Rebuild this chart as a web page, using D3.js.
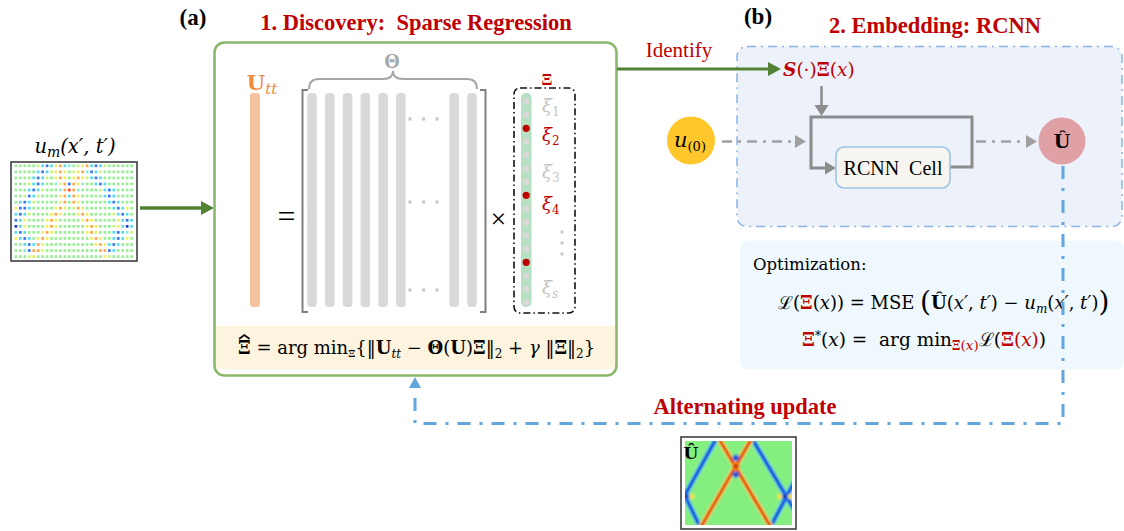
<!DOCTYPE html>
<html>
<head>
<meta charset="utf-8">
<script src="https://cdn.jsdelivr.net/npm/d3@7"></script>
<style>
  html, body { margin: 0; padding: 0; background: #fff; }
  svg { display: block; }
  text { white-space: pre; }
</style>
</head>
<body>
<svg id="fig" width="1124" height="531"></svg>
<script>
// ---------------- data ----------------
// Sparse measurements u_m(x', t'): one string per time row, one letter per sensor (colour level)
const measurementRows = [
  "ggggglcbcyocaglyocbclgggggg",
  "gggggcbclyoyglyoabclggggggg",
  "ggggcbclgyoygyoylcbcggggggg",
  "ggglcbcggayoboyaggcbcgggggg",
  "gggcbclgggaoroagggglcbcgggg",
  "gglbclggggyocoygggggcbcgggg",
  "gcbclgggggyogoyggggggcbcggg",
  "ybbcgggggyoygloyggggggcbcyg",
  "cbclggggyoygggyoyggggglcbcg",
  "bcyggggyoygggggyoygggggycbc",
  "dcyggggyoyggggggyoyggglycdc",
  "cbcgggyoygggggggyoygggcbcal",
  "ycbcgyoygggggggggyoyggcbcyg",
  "ggcbcoygggggggggggyoycbcggg",
  "ggabooyggggggggggggoobcgggg",
  "ggglygggggggggggggggylggggg"
];
// colour level of each letter (jet-like scale, low -> high)
const levelKeys   = ["d", "b", "c", "a", "g", "l", "y", "o", "r"];
const levelColors = ["#2433c8", "#3a78f0", "#52dcf0", "#86eed6", "#98ee94", "#c8f57c", "#eef05a", "#ffa648", "#ee4a2c"];

// Library matrix Theta: column slots that hold a drawn term (slots 6-7 are elided)
const libraryColumns = [0, 1, 2, 3, 4, 5, 8, 9];
// Sparse coefficient vector Xi (non-zero entries are the selected terms)
const xiCoefficients = [0, 0, 1, 0, 0, 0, 0, 1, 0, 0, 0, 0, 1, 0, 0, 0];
// labelled coefficients beside the vector
const xiLabels = [
  { sub: "1", active: false },
  { sub: "2", active: true },
  { sub: "3", active: false },
  { sub: "4", active: true },
  { sub: "s", active: false }
];

// Reconstructed field U-hat: travelling bands in (x, t) unit coordinates
const waveBands = [
  { tone: "blue", from: [0.28, 0.00], to: [-0.06, 0.78] },
  { tone: "blue", from: [-0.06, 0.50], to: [0.14, 1.02] },
  { tone: "red",  from: [0.33, 0.00], to: [0.80, 1.02] },
  { tone: "red",  from: [0.61, 0.00], to: [0.15, 1.02] },
  { tone: "blue", from: [0.64, 0.00], to: [1.04, 0.86] },
  { tone: "blue", from: [1.04, 0.44], to: [0.80, 1.02] }
];
// interaction spots where bands cross or reflect
const waveSpots = [
  { tone: "red",    u: 0.475, v: 0.30, r: 2.8 },
  { tone: "blue",   u: 0.475, v: 0.20, r: 2.0 },
  { tone: "blue",   u: 0.475, v: 0.40, r: 2.0 },
  { tone: "blue",   u: 0.010, v: 0.66, r: 2.6 },
  { tone: "yellow", u: 0.065, v: 0.66, r: 1.4 },
  { tone: "blue",   u: 0.935, v: 0.66, r: 2.8 },
  { tone: "yellow", u: 0.885, v: 0.66, r: 1.4 },
  { tone: "yellow", u: 0.985, v: 0.66, r: 1.3 }
];

// ---------------- drawing ----------------
const svg = d3.select("#fig");
const SERIF = "'Liberation Serif', 'Times New Roman', serif";
const MATH = "'DejaVu Serif', serif";
const RED = "#c00000";
const DGREEN = "#548235";

svg.append("rect").attr("width", 1124).attr("height", 531).attr("fill", "#fff");

const defs = svg.append("defs");
defs.append("filter").attr("id", "soft").attr("x", "-5%").attr("y", "-5%").attr("width", "110%").attr("height", "110%")
  .append("feGaussianBlur").attr("stdDeviation", 0.85);
defs.append("clipPath").attr("id", "fieldClip")
  .append("rect").attr("x", 685).attr("y", 441).attr("width", 107).attr("height", 84);

// rich text helper: segments with bold / italic / colour / sub-shift
function rich(x, y, segs, o = {}) {
  const t = svg.append("text")
    .attr("x", x).attr("y", y)
    .attr("font-family", o.family || SERIF)
    .attr("font-size", o.size || 18)
    .attr("text-anchor", o.anchor || "start")
    .attr("fill", o.fill || "#000");
  if (o.bold) t.attr("font-weight", "bold");
  let cur = 0;
  segs.forEach(s => {
    if (typeof s === "string") s = { t: s };
    const shift = s.dy || 0;
    const ts = t.append("tspan").text(s.t).attr("dy", shift - cur);
    cur = shift;
    if (s.b) ts.attr("font-weight", "bold");
    if (s.i) ts.attr("font-style", "italic");
    if (s.c) ts.attr("fill", s.c);
    if (s.fs) ts.attr("font-size", s.fs);
    if (s.ff) ts.attr("font-family", s.ff);
  });
  return t;
}

function arrowHead(x, y, dir, len, half, color) {
  let p;
  if (dir === "r") p = [[x, y], [x - len, y - half], [x - len, y + half]];
  if (dir === "d") p = [[x, y], [x - half, y - len], [x + half, y - len]];
  if (dir === "u") p = [[x, y], [x - half, y + len], [x + half, y + len]];
  svg.append("path").attr("d", d3.line()(p) + "Z").attr("fill", color);
}

// ---------- left: sparse measurement grid ----------
rich(75, 153, [{ t: "u", i: true }, { t: "m", i: true, fs: 14, dy: 4 }, { t: "(x′, t′)", i: true }],
  { size: 19.5, anchor: "middle", family: MATH });
svg.append("rect").attr("x", 11).attr("y", 162).attr("width", 126).attr("height", 99)
  .attr("fill", "#fff").attr("stroke", "#3f3f3f").attr("stroke-width", 1.6);

const levelColor = d3.scaleOrdinal(levelKeys, levelColors);
const gx = d3.scaleLinear([0, 26], [15.9, 131.6]);
const gy = d3.scaleLinear([0, measurementRows.length - 1], [165.8, 256.6]);
const cells = measurementRows.flatMap((row, r) => row.split("").map((k, c) => ({ r, c, k })));
svg.append("g").selectAll("rect").data(cells).join("rect")
  .attr("x", d => gx(d.c) - 1.35).attr("y", d => gy(d.r) - 1.35)
  .attr("width", 2.7).attr("height", 2.7)
  .attr("fill", d => levelColor(d.k));

// arrow into the discovery box
svg.append("line").attr("x1", 140).attr("y1", 208).attr("x2", 202).attr("y2", 208)
  .attr("stroke", DGREEN).attr("stroke-width", 3.5);
arrowHead(214, 208, "r", 13, 7, DGREEN);

// ---------- (a) discovery box ----------
rich(193, 25, ["(a)"], { size: 23, bold: true, anchor: "middle" });
rich(416, 30, ["1. Discovery:  Sparse Regression"], { size: 22.5, bold: true, anchor: "middle", fill: RED });

svg.append("rect").attr("x", 214.5).attr("y", 42.5).attr("width", 402).attr("height", 333).attr("rx", 10)
  .attr("fill", "#fff").attr("stroke", "#8bb86c").attr("stroke-width", 2.6);
svg.append("rect").attr("x", 216).attr("y", 326).attr("width", 399).attr("height", 43)
  .attr("fill", "#fdf4df");

// U_tt
rich(262, 90, [{ t: "U", b: true }, { t: "tt", i: true, fs: 15, dy: 4 }], { size: 21, anchor: "middle", fill: "#f08a3c", family: MATH });
svg.append("rect").attr("x", 250).attr("y", 93).attr("width", 10).attr("height", 214).attr("rx", 3)
  .attr("fill", "#f6c3a0");

rich(286.5, 227, ["="], { size: 32, anchor: "middle" });

// Theta library
const tx = d3.scaleLinear([0, 9], [312, 472]);
svg.append("g").selectAll("rect").data(libraryColumns).join("rect")
  .attr("x", d => tx(d) - 4.8).attr("y", 93).attr("width", 9.6).attr("height", 214).attr("rx", 3.5)
  .attr("fill", "#d9d9d9");
const ellipsisRows = [119, 202, 290];
ellipsisRows.forEach(y => [410, 423.5, 437].forEach(x =>
  svg.append("rect").attr("x", x - 1.6).attr("y", y - 1.6).attr("width", 3.2).attr("height", 3.2).attr("fill", "#c9c9c9")));

const brk = svg.append("g").attr("fill", "none").attr("stroke", "#7f7f7f").attr("stroke-width", 2);
brk.append("path").attr("d", "M308,90 L302.5,90 L302.5,312 L308,312");
brk.append("path").attr("d", "M480,90 L485.5,90 L485.5,312 L480,312");
svg.append("path").attr("d", "M309,89 Q309,79 319,79 L383,79 Q393,79 393,71 Q393,79 403,79 L467,79 Q477,79 477,89")
  .attr("fill", "none").attr("stroke", "#a6a6a6").attr("stroke-width", 2);
rich(392, 68, [{ t: "Θ", b: true }], { size: 20, anchor: "middle", fill: "#a6a6a6" });

rich(498.5, 228, ["×"], { size: 28, anchor: "middle" });

// Xi vector
rich(547, 85, [{ t: "Ξ", b: true }], { size: 16, anchor: "middle", fill: RED });
svg.append("rect").attr("x", 514).attr("y", 88).attr("width", 61).attr("height", 225).attr("rx", 6)
  .attr("fill", "none").attr("stroke", "#111").attr("stroke-width", 1.6).attr("stroke-dasharray", "7,3,1.5,3");
svg.append("rect").attr("x", 521).attr("y", 93).attr("width", 10.5).attr("height", 214).attr("rx", 5)
  .attr("fill", "#b7dfc2");
const xy = d3.scaleLinear([0, xiCoefficients.length - 1], [101.5, 302.5]);
svg.append("g").selectAll("circle").data(xiCoefficients).join("circle")
  .attr("cx", 526.2).attr("cy", (d, i) => xy(i))
  .attr("r", d => d ? 3.6 : 3.3)
  .attr("fill", d => d ? "#c00000" : "#d9d9d9");
const xiLabelY = [112, 141, 178, 210, 294];
xiLabels.forEach((l, i) => {
  rich(542, xiLabelY[i], [{ t: "ξ", i: true }, { t: l.sub, i: l.sub === "s", fs: 12, dy: 4 }],
    { size: 18, fill: l.active ? RED : "#c4c4c4", family: MATH });
});
[232, 243, 254].forEach(y => svg.append("rect").attr("x", 560.5).attr("y", y - 1.5).attr("width", 3).attr("height", 3).attr("fill", "#c9c9c9"));

// regression objective
const objective = rich(238, 354, [
  { t: "Ξ", b: true }, " = arg min", { t: "Ξ", b: true, fs: 10, dy: 3 }, "{‖", { t: "U", b: true },
  { t: "tt", i: true, fs: 12, dy: 4 }, " − ", { t: "Θ", b: true }, "(", { t: "U", b: true }, ")", { t: "Ξ", b: true },
  "‖", { t: "2", fs: 12, dy: 4 }, " + ", { t: "γ", i: true }, " ‖", { t: "Ξ", b: true }, "‖", { t: "2", fs: 12, dy: 4 }, "}"
], { size: 18, family: MATH });
// hat over the leading Xi
{
  const ext = objective.node().getExtentOfChar(0);
  const cx = ext.x + ext.width / 2, top = ext.y + 1;
  svg.append("path")
    .attr("d", `M${cx - ext.width / 2 + 1},${top + 1} L${cx},${top - 3} L${cx + ext.width / 2 - 1},${top + 1}`)
    .attr("fill", "none").attr("stroke", "#000").attr("stroke-width", 1.6);
}

// ---------- (b) embedding box ----------
rich(758, 24, ["(b)"], { size: 23, bold: true, anchor: "middle" });
rich(935, 33, ["2. Embedding: RCNN"], { size: 22.5, bold: true, anchor: "middle", fill: RED });

svg.append("rect").attr("x", 737).attr("y", 46.5).attr("width", 385).attr("height", 180).attr("rx", 10)
  .attr("fill", "#ecf1fa").attr("stroke", "#8db3e2").attr("stroke-width", 1.5).attr("stroke-dasharray", "9,5,2,5");

// identify arrow (drawn over the embedding box)
svg.append("line").attr("x1", 617).attr("y1", 69).attr("x2", 770).attr("y2", 69)
  .attr("stroke", DGREEN).attr("stroke-width", 3);
arrowHead(781, 69, "r", 13, 7, DGREEN);
rich(679, 57, ["Identify"], { size: 21, anchor: "middle", fill: RED });

rich(783, 76, [{ t: "S", b: true, i: true }, "(·)", { t: "Ξ", b: true }, "(", { t: "x", i: true }, ")"],
  { size: 18.5, fill: RED, family: MATH });

// feed-down arrow
svg.append("line").attr("x1", 821.5).attr("y1", 86).attr("x2", 821.5).attr("y2", 106)
  .attr("stroke", "#8c8c8c").attr("stroke-width", 2.5);
arrowHead(821.5, 116, "d", 11, 7, "#8c8c8c");

// recurrent loop
svg.append("path").attr("d", "M950,167 L972,167 L972,117 L811,117 L811,168 L826,168")
  .attr("fill", "none").attr("stroke", "#8c8c8c").attr("stroke-width", 3);
arrowHead(836, 168, "r", 11, 6.5, "#8c8c8c");
svg.append("rect").attr("x", 836).attr("y", 147).attr("width", 114).attr("height", 41).attr("rx", 8)
  .attr("fill", "#f7f5ef").attr("stroke", "#9dc3e6").attr("stroke-width", 1.6);
rich(893, 175, ["RCNN  Cell"], { size: 20, anchor: "middle" });

// input and output nodes
svg.append("circle").attr("cx", 691).attr("cy", 140.5).attr("r", 24).attr("fill", "#ffc72c");
rich(690, 147, [{ t: "u", i: true }, { t: "(0)", fs: 13, dy: 4 }], { size: 21, anchor: "middle", family: MATH });
svg.append("line").attr("x1", 722).attr("y1", 141.5).attr("x2", 796).attr("y2", 141.5)
  .attr("stroke", "#a0a0a0").attr("stroke-width", 2.5).attr("stroke-dasharray", "10,6,3,6");
arrowHead(806, 141.5, "r", 11, 6.5, "#a0a0a0");
svg.append("line").attr("x1", 976).attr("y1", 141.5).attr("x2", 1027).attr("y2", 141.5)
  .attr("stroke", "#a0a0a0").attr("stroke-width", 2.5).attr("stroke-dasharray", "10,6,3,6");
arrowHead(1037, 141.5, "r", 11, 6.5, "#a0a0a0");
svg.append("circle").attr("cx", 1062).attr("cy", 141).attr("r", 23.5).attr("fill", "#e0a1a6");
rich(1062, 148, [{ t: "Û", b: true }], { size: 19, anchor: "middle", family: MATH });

// ---------- optimization box ----------
svg.append("rect").attr("x", 740).attr("y", 240.5).attr("width", 384).attr("height", 129).attr("rx", 8)
  .attr("fill", "#eff8fc");
rich(753, 270, ["Optimization:"], { size: 16.5, family: MATH });
rich(778, 309, [
  "ℒ(", { t: "Ξ", b: true, c: RED }, "(", { t: "x", i: true }, ")) = MSE ", { t: "(", fs: 28, dy: 2 },
  { t: "Û", b: true }, "(", { t: "x′", i: true }, ", ", { t: "t′", i: true }, ") − ", { t: "u", i: true },
  { t: "m", i: true, fs: 12, dy: 4 }, "(", { t: "x′", i: true }, ", ", { t: "t′", i: true }, ")", { t: ")", fs: 28, dy: 2 }
], { size: 18, family: MATH });
rich(802, 346, [
  { t: "Ξ", b: true, c: RED }, { t: "*", dy: -6, fs: 12 }, "(", { t: "x", i: true }, ") =  arg min",
  { t: "Ξ", b: true, c: RED, fs: 12, dy: 4 }, { t: "(", c: RED, fs: 13.5, dy: 4 }, { t: "x", i: true, c: RED, fs: 13.5, dy: 4 },
  { t: ")", c: RED, fs: 13.5, dy: 4 }, "ℒ(", { t: "Ξ", b: true, c: RED }, { t: "(", c: RED }, { t: "x", i: true, c: RED },
  { t: ")", c: RED }, ")"
], { size: 18.5, family: MATH });

// ---------- alternating update loop ----------
svg.append("path").attr("d", "M1063,166 L1063,423.5 L415,423.5 L415,389")
  .attr("fill", "none").attr("stroke", "#62a6dc").attr("stroke-width", 3).attr("stroke-dasharray", "13,9,3,9");
arrowHead(415, 377, "u", 11, 6, "#62a6dc");
rich(745, 414, ["Alternating update"], { size: 22.5, bold: true, anchor: "middle", fill: RED });

// ---------- reconstructed field U-hat ----------
svg.append("rect").attr("x", 681).attr("y", 437).attr("width", 115).attr("height", 92)
  .attr("fill", "#fff").attr("stroke", "#3f3f3f").attr("stroke-width", 1.6);
const hx = d3.scaleLinear([0, 1], [685, 792]);
const hy = d3.scaleLinear([0, 1], [441, 525]);
const field = svg.append("g").attr("clip-path", "url(#fieldClip)");
const fieldInner = field.append("g").attr("filter", "url(#soft)");
fieldInner.append("rect").attr("x", hx(-0.1)).attr("y", hy(-0.1)).attr("width", hx(1.1) - hx(-0.1)).attr("height", hy(1.1) - hy(-0.1))
  .attr("fill", "#84ef7e");
const bandStyles = {
  blue: [["#d2f466", 8, 0.35], ["#44e2ee", 5.8, 1], ["#2a78f2", 3.8, 1], ["#0a1ad0", 2.1, 1]],
  red:  [["#52dcee", 8, 0.3], ["#f2ee44", 5.8, 1], ["#ff8a1c", 3.8, 1], ["#d40000", 2.1, 1]]
};
["blue", "red"].forEach(tone => {
  bandStyles[tone].forEach(([col, w, op]) => {
    fieldInner.append("g").selectAll("line").data(waveBands.filter(b => b.tone === tone)).join("line")
      .attr("x1", d => hx(d.from[0])).attr("y1", d => hy(d.from[1]))
      .attr("x2", d => hx(d.to[0])).attr("y2", d => hy(d.to[1]))
      .attr("stroke", col).attr("stroke-width", w).attr("stroke-linecap", "round")
      .attr("stroke-opacity", op);
  });
});
const spotColors = {
  red: ["#ff7a10", "#8c0000"],
  blue: ["#2a70f0", "#060a8c"],
  yellow: ["#f2ec50", "#ffb030"]
};
fieldInner.append("g").selectAll("circle").data(waveSpots).join("circle")
  .attr("cx", d => hx(d.u)).attr("cy", d => hy(d.v)).attr("r", d => d.r + 1.2)
  .attr("fill", d => spotColors[d.tone][0]);
fieldInner.append("g").selectAll("circle").data(waveSpots).join("circle")
  .attr("cx", d => hx(d.u)).attr("cy", d => hy(d.v)).attr("r", d => d.r * 0.65)
  .attr("fill", d => spotColors[d.tone][1]);
rich(691, 459, [{ t: "Û", b: true }], { size: 17, anchor: "middle", family: MATH });
</script>
</body>
</html>
